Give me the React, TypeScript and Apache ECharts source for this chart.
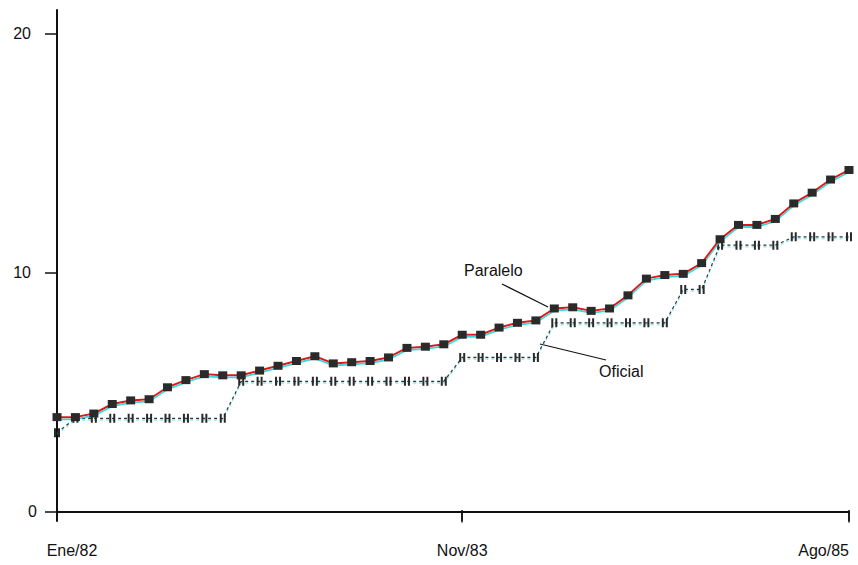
import React, { useEffect, useRef } from "react";
import * as echarts from "echarts";

const monthNames = ["Ene", "Feb", "Mar", "Abr", "May", "Jun", "Jul", "Ago", "Sep", "Oct", "Nov", "Dic"];
const years = ["82", "83", "84", "85"];
const categories: string[] = [];
years.forEach((y, yi) => {
  monthNames.forEach((m, mi) => {
    if (yi < 3 || mi < 8) categories.push(m + "/" + y);
  });
});

const xTickLabels = ["Ene/82", "Nov/83", "Ago/85"];
const yTickValues = [0, 10, 20];

const paralelo = [
  3.95, 3.95, 4.1, 4.5, 4.65, 4.7, 5.2, 5.5, 5.75, 5.7, 5.7, 5.9,
  6.1, 6.3, 6.5, 6.2, 6.25, 6.3, 6.45, 6.85, 6.9, 7.0, 7.4, 7.4,
  7.7, 7.9, 8.0, 8.5, 8.55, 8.4, 8.5, 9.05, 9.75, 9.9, 9.95, 10.4,
  11.4, 12.0, 12.0, 12.25, 12.9, 13.35, 13.9, 14.3,
];

const oficial = [
  3.3, 3.9, 3.9, 3.9, 3.9, 3.9, 3.9, 3.9, 3.9, 3.9, 5.45, 5.45,
  5.45, 5.45, 5.45, 5.45, 5.45, 5.45, 5.45, 5.45, 5.45, 5.45, 6.45, 6.45,
  6.45, 6.45, 6.45, 7.9, 7.9, 7.9, 7.9, 7.9, 7.9, 7.9, 9.3, 9.3,
  11.15, 11.15, 11.15, 11.15, 11.5, 11.5, 11.5, 11.5,
];

const FONT = "'Liberation Sans', Arial, sans-serif";

export default function App() {
  const ref = useRef<HTMLDivElement>(null);
  useEffect(() => {
    if (!ref.current) return;
    const chart = echarts.init(ref.current, null, { renderer: "svg" });
    const showIdx = (i: number) => xTickLabels.indexOf(categories[i]) >= 0;
    chart.setOption({
      animation: false,
      backgroundColor: "#ffffff",
      textStyle: { fontFamily: FONT },
      grid: { left: 57, right: 9, top: 10, bottom: 44, containLabel: false },
      xAxis: [
        {
          type: "category",
          position: "bottom",
          data: categories,
          boundaryGap: false,
          axisLine: { onZero: true, lineStyle: { color: "#111", width: 2 } },
          axisTick: {
            show: true,
            inside: false,
            length: 11,
            interval: (i: number) => showIdx(i) && i > 0,
            lineStyle: { color: "#111", width: 1.5 },
          },
          axisLabel: {
            interval: (i: number) => showIdx(i),
            margin: 21,
            fontSize: 16,
            color: "#111",
            fontFamily: FONT,
            formatter: (v: string) => (v === xTickLabels[0] ? "{first|" + v + "}" : v),
            rich: {
              first: { fontSize: 16, color: "#111", fontFamily: FONT, padding: [0, 0, 0, 30] },
            },
            alignMinLabel: "center",
            alignMaxLabel: "right",
          },
          splitLine: { show: false },
        },
        {
          type: "category",
          position: "bottom",
          data: categories,
          boundaryGap: false,
          axisLine: { show: false, onZero: true },
          axisTick: {
            show: true,
            inside: true,
            length: 11,
            interval: (i: number) => showIdx(i) && i > 0,
            lineStyle: { color: "#111", width: 1.5 },
          },
          axisLabel: { show: false },
          splitLine: { show: false },
        },
      ],
      yAxis: {
        type: "value",
        min: -0.4,
        max: 21,
        axisLine: { show: true, lineStyle: { color: "#111", width: 2 } },
        axisTick: {
          show: true,
          length: 12,
          customValues: yTickValues,
          lineStyle: { color: "#111", width: 1.5 },
        },
        axisLabel: {
          customValues: yTickValues,
          margin: 20,
          fontSize: 16,
          color: "#111",
          fontFamily: FONT,
          formatter: (v: number) => (v === 0 ? "" + v : "{far|" + v + "}"),
          rich: {
            far: { fontSize: 16, color: "#111", fontFamily: FONT, padding: [0, 6, 0, 0] },
          },
        },
        splitLine: { show: false },
      },
      series: [
        {
          name: "Oficial",
          type: "line",
          data: oficial,
          xAxisIndex: 0,
          symbol: "path://M0,0H2V8H0Z M4,0H6V8H4Z",
          symbolSize: [6, 9],
          itemStyle: { color: "#2a2a2a" },
          lineStyle: {
            color: "#333",
            width: 1.2,
            type: [3, 3],
            shadowColor: "rgba(0,200,200,0.6)",
            shadowOffsetY: 1.5,
            shadowBlur: 1,
          },
          z: 2,
        },
        {
          name: "Paralelo",
          type: "line",
          data: paralelo,
          xAxisIndex: 0,
          symbol: "rect",
          symbolSize: [9, 8],
          itemStyle: { color: "#2a2a2a" },
          lineStyle: {
            color: "#e01818",
            width: 2,
            shadowColor: "rgba(0,210,210,0.8)",
            shadowOffsetY: 2,
            shadowBlur: 1,
          },
          z: 3,
        },
      ],
      graphic: [
        {
          type: "text",
          left: 464,
          top: 262,
          style: { text: "Paralelo", fontSize: 16, fill: "#111", fontFamily: FONT },
        },
        {
          type: "line",
          shape: { x1: 502, y1: 284, x2: 548, y2: 307 },
          style: { stroke: "#111", lineWidth: 1.2 },
        },
        {
          type: "text",
          left: 599,
          top: 363,
          style: { text: "Oficial", fontSize: 16, fill: "#111", fontFamily: FONT },
        },
        {
          type: "line",
          shape: { x1: 540, y1: 344, x2: 606, y2: 360 },
          style: { stroke: "#111", lineWidth: 1.2 },
        },
      ],
    });
    return () => chart.dispose();
  }, []);
  return (
    <div
      ref={ref}
      style={{ position: "absolute", left: 0, top: 0, width: 858, height: 565 }}
    />
  );
}
